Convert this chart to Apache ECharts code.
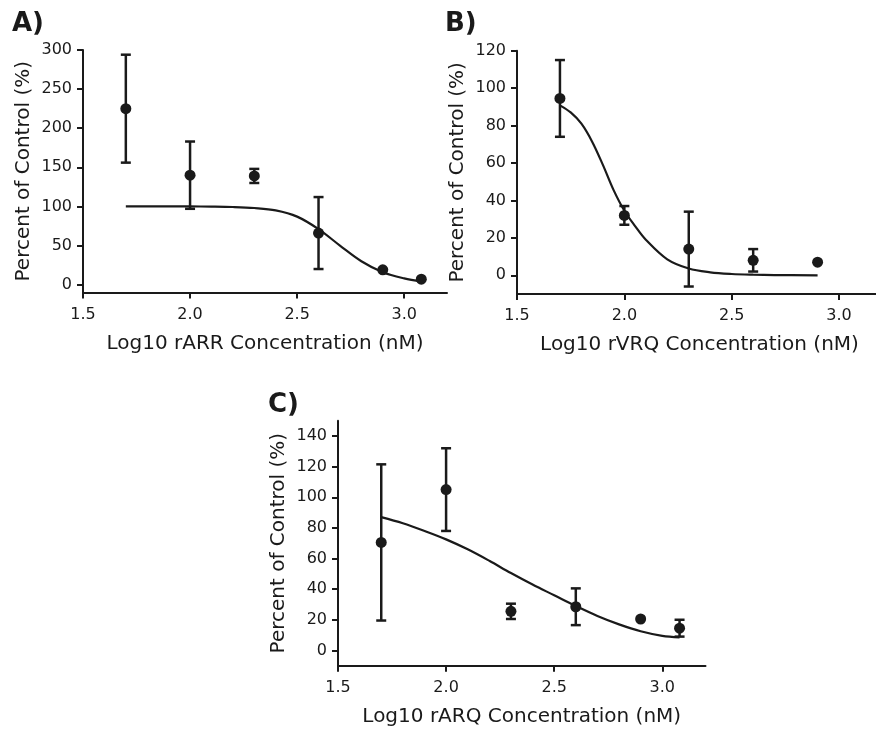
<!DOCTYPE html>
<html>
<head>
<meta charset="utf-8">
<script src="https://cdn.jsdelivr.net/npm/echarts@6/dist/echarts.min.js"></script>
<style>
html,body{margin:0;padding:0;background:#fff;}
#chart{width:876px;height:731px;}
</style>
</head>
<body>
<div id="chart"></div>
<script>
// ---- Data ----
const panelLabels = ['A)', 'B)', 'C)'];
const xTitles = ['Log10 rARR Concentration (nM)', 'Log10 rVRQ Concentration (nM)', 'Log10 rARQ Concentration (nM)'];
const yTitle = 'Percent of Control (%)';

const xTicks = [1.5, 2.0, 2.5, 3.0];
const yTicksA = [0, 50, 100, 150, 200, 250, 300];
const yTicksB = [0, 20, 40, 60, 80, 100, 120];
const yTicksC = [0, 20, 40, 60, 80, 100, 120, 140];

// Panel A (rARR)
const xA = [1.7, 2.0, 2.3, 2.6, 2.9, 3.08];
const meanA = [225, 140, 139, 66, 19, 7];
const errA = [69, 43, 9, 46, 0, 0];
const curveXA = [1.7, 1.8, 1.9, 2.0, 2.1, 2.2, 2.3, 2.4, 2.5, 2.6, 2.7, 2.8, 2.9, 3.0, 3.08];
const curveYA = [100, 100, 100, 100, 99.8, 99.3, 98, 95, 87, 71, 50, 30, 16, 8, 4];

// Panel B (rVRQ)
const xB = [1.7, 2.0, 2.3, 2.6, 2.9];
const meanB = [94.5, 32, 14, 8, 7];
const errB = [20.5, 5, 20, 6, 0];
const curveXB = [1.7, 1.75, 1.8, 1.85, 1.9, 1.95, 2.0, 2.05, 2.1, 2.2, 2.3, 2.4, 2.5, 2.6, 2.7, 2.9];
const curveYB = [90.8, 87, 81, 71.4, 59, 45.5, 34.5, 26.3, 19, 8.5, 3.6, 1.6, 0.7, 0.3, 0.1, 0];

// Panel C (rARQ)
const xC = [1.7, 2.0, 2.3, 2.6, 2.9, 3.08];
const meanC = [70.5, 105, 25.5, 28.5, 20.5, 14.5];
const errC = [51, 27, 5, 12, 0, 5.5];
const curveXC = [1.7, 1.8, 1.9, 2.0, 2.1, 2.2, 2.3, 2.4, 2.5, 2.6, 2.7, 2.8, 2.9, 3.0, 3.08];
const curveYC = [87, 83, 78, 72.5, 66, 58.5, 50.5, 43, 36, 29, 22.5, 17, 12.5, 9.5, 8.5];

// ---- Build chart ----
const FONT = '"DejaVu Sans", Verdana, sans-serif';
const INK = '#1a1a1a';

const panels = [
  {x: xA, m: meanA, e: errA, cx: curveXA, cy: curveYA, yTicks: yTicksA, yMin: -10, yMax: 300,
   grid: {left: 83, top: 50, width: 364, height: 242.5}},
  {x: xB, m: meanB, e: errB, cx: curveXB, cy: curveYB, yTicks: yTicksB, yMin: -10, yMax: 120,
   grid: {left: 517, top: 50.7, width: 365, height: 243.3}},
  {x: xC, m: meanC, e: errC, cx: curveXC, cy: curveYC, yTicks: yTicksC, yMin: -10, yMax: 150,
   grid: {left: 338, top: 420.7, width: 367.5, height: 245}}
];

const labelPos = [{left: 12, top: 11}, {left: 445, top: 11}, {left: 268, top: 392}];

function errRender(params, api) {
  const x = api.value(0), y = api.value(1), e = api.value(2);
  const t = api.coord([x, y + e]);
  const b = api.coord([x, y - e]);
  const h = 5;
  const st = {stroke: INK, lineWidth: 2.5, fill: null};
  return {
    type: 'group',
    children: [
      {type: 'line', shape: {x1: t[0], y1: t[1], x2: b[0], y2: b[1]}, style: st},
      {type: 'line', shape: {x1: t[0] - h, y1: t[1], x2: t[0] + h, y2: t[1]}, style: st},
      {type: 'line', shape: {x1: b[0] - h, y1: b[1], x2: b[0] + h, y2: b[1]}, style: st}
    ]
  };
}

const grids = [], xAxes = [], yAxes = [], series = [], titles = [];
panels.forEach((p, i) => {
  grids.push(Object.assign({containLabel: false, outerBoundsMode: 'none'}, p.grid));
  xAxes.push({
    type: 'value', gridIndex: i, min: 1.5, max: 3.2,
    name: xTitles[i], nameLocation: 'middle', nameGap: 41,
    nameTextStyle: {fontFamily: FONT, fontSize: 20, color: INK},
    axisLine: {show: true, onZero: false, lineStyle: {color: INK, width: 2}},
    axisTick: {show: true, length: 6, inside: false, customValues: xTicks, lineStyle: {color: INK, width: 2}},
    axisLabel: {show: true, margin: 14, customValues: xTicks, fontFamily: FONT, fontSize: 16, color: INK,
      formatter: v => Number(v).toFixed(1)},
    splitLine: {show: false}
  });
  yAxes.push({
    type: 'value', gridIndex: i, min: p.yMin, max: p.yMax,
    name: yTitle, nameLocation: 'middle', nameGap: 49, nameRotate: 90,
    nameTextStyle: {fontFamily: FONT, fontSize: 20, color: INK},
    axisLine: {show: true, onZero: false, lineStyle: {color: INK, width: 2}},
    axisTick: {show: true, length: 6, inside: false, customValues: p.yTicks, lineStyle: {color: INK, width: 2}},
    axisLabel: {show: true, margin: 11, customValues: p.yTicks, fontFamily: FONT, fontSize: 16, color: INK},
    splitLine: {show: false}
  });
  series.push({
    type: 'line', xAxisIndex: i, yAxisIndex: i, smooth: 0.35, showSymbol: false, symbol: 'none',
    lineStyle: {color: INK, width: 2.2}, silent: true, z: 2,
    data: p.cx.map((x, k) => [x, p.cy[k]])
  });
  series.push({
    type: 'custom', xAxisIndex: i, yAxisIndex: i, renderItem: errRender, silent: true, z: 3,
    encode: {x: 0, y: 1},
    data: p.x.map((x, k) => [x, p.m[k], p.e[k]]).filter(d => d[2] > 0)
  });
  series.push({
    type: 'scatter', xAxisIndex: i, yAxisIndex: i, symbol: 'circle', symbolSize: 11,
    itemStyle: {color: INK, opacity: 1}, silent: true, z: 4,
    data: p.x.map((x, k) => [x, p.m[k]])
  });
  titles.push({
    text: panelLabels[i], left: labelPos[i].left, top: labelPos[i].top, padding: 0,
    textStyle: {fontFamily: FONT, fontSize: 26, fontWeight: 'bold', color: INK}
  });
});

const chart = echarts.init(document.getElementById('chart'), null, {renderer: 'canvas', width: 876, height: 731});
chart.setOption({
  backgroundColor: '#ffffff',
  animation: false,
  title: titles,
  grid: grids,
  xAxis: xAxes,
  yAxis: yAxes,
  series: series
});
</script>
</body>
</html>
